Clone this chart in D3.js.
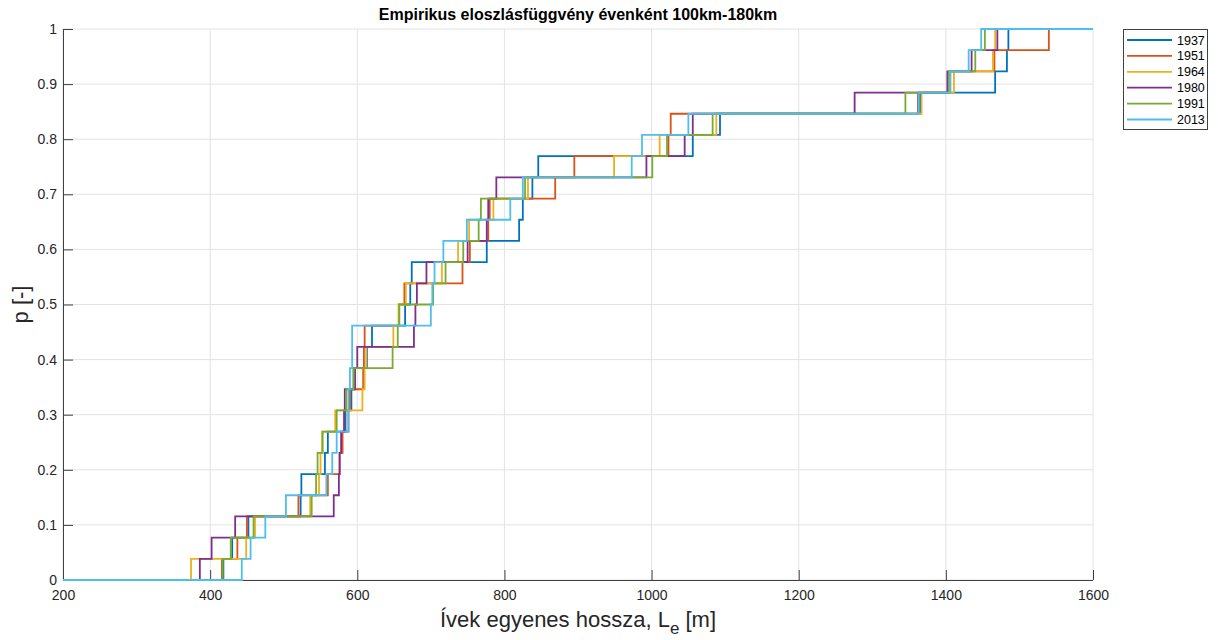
<!DOCTYPE html>
<html>
<head>
<meta charset="utf-8">
<script src="https://cdn.jsdelivr.net/npm/d3@7"></script>
<style>
  html, body { margin: 0; padding: 0; background: #fff; }
  svg { display: block; font-family: "Liberation Sans", Arial, sans-serif; }
</style>
</head>
<body>
<svg id="chart" width="1218" height="640"></svg>
<script>
// ---- data (sorted sample values per year, 26 each) ----
const years = ["1937", "1951", "1964", "1980", "1991", "2013"];
const s1937 = [418, 430, 452, 523, 524, 556, 560, 584, 592, 595, 613, 620, 665, 672, 674, 776, 820, 825, 838, 846, 1056, 1093, 1365, 1467, 1483, 1485];
const s1951 = [416, 437, 450, 520, 560, 576, 580, 588, 590, 608, 609, 610, 657, 664, 743, 753, 778, 780, 869, 895, 1023, 1026, 1362, 1406, 1466, 1540];
const s1964 = [374, 449, 461, 536, 548, 550, 552, 570, 607, 610, 612, 649, 656, 666, 715, 737, 752, 785, 832, 949, 1011, 1088, 1367, 1411, 1464, 1467];
const s1980 = [386, 402, 434, 568, 575, 576, 578, 582, 583, 597, 600, 677, 679, 681, 694, 750, 776, 778, 789, 993, 1045, 1056, 1276, 1402, 1435, 1470];
const s1991 = [417, 428, 459, 538, 544, 546, 553, 572, 585, 595, 648, 655, 657, 703, 720, 744, 765, 768, 828, 1001, 1021, 1083, 1345, 1404, 1440, 1453];
const s2013 = [443, 455, 475, 503, 558, 566, 572, 588, 588, 590, 593, 593, 700, 702, 705, 717, 749, 808, 825, 973, 987, 1050, 1363, 1406, 1431, 1448];
const seriesValues = [s1937, s1951, s1964, s1980, s1991, s2013];
const colors = ["#0072BD", "#D95319", "#EDB120", "#7E2F8E", "#77AC30", "#4DBEEE"];
const xTicks = [200, 400, 600, 800, 1000, 1200, 1400, 1600];
const yTicks = [0, 0.1, 0.2, 0.3, 0.4, 0.5, 0.6, 0.7, 0.8, 0.9, 1];
const xDomain = [200, 1600];
const yDomain = [0, 1];

// ---- layout ----
const svg = d3.select("#chart");
const L = 63, R = 1093, T = 29, B = 580;
const x = d3.scaleLinear().domain(xDomain).range([L, R]);
const y = d3.scaleLinear().domain(yDomain).range([B, T]);

// grid
const grid = svg.append("g");
grid.selectAll("line.vx").data(xTicks).join("line")
  .attr("x1", d => x(d)).attr("x2", d => x(d)).attr("y1", T).attr("y2", B)
  .attr("stroke", "#e3e3e3").attr("stroke-width", 1);
grid.selectAll("line.hy").data(yTicks).join("line")
  .attr("x1", L).attr("x2", R).attr("y1", d => y(d)).attr("y2", d => y(d))
  .attr("stroke", "#e3e3e3").attr("stroke-width", 1);

// axes
const xAxis = d3.axisBottom(x).tickValues(xTicks).tickSize(-10).tickPadding(12).tickFormat(d3.format("d"));
const yAxis = d3.axisLeft(y).tickValues(yTicks).tickSize(-10).tickPadding(6).tickFormat(d => d === 0 ? "0" : d === 1 ? "1" : d3.format(".1f")(d));
const gx = svg.append("g").attr("transform", `translate(0,${B})`).call(xAxis);
const gy = svg.append("g").attr("transform", `translate(${L},0)`).call(yAxis);
[gx, gy].forEach(g => {
  g.select(".domain").attr("stroke", "#404040").attr("stroke-width", 1);
  g.selectAll(".tick line").attr("stroke", "#404040");
  g.selectAll(".tick text").attr("fill", "#262626").style("font-size", "14px")
    .style("font-family", "'Liberation Sans', Arial, sans-serif");
});
gx.selectAll(".tick text").attr("y", 10).attr("dy", "0.71em");
gy.selectAll(".tick text").attr("x", -6);
gx.select(".domain").attr("d", `M${L},0.5H${R}`);
gy.select(".domain").attr("d", `M0.5,${B}V${T}`);

// ECDF step lines
const n = 26;
const line = d3.line().x(d => x(d[0])).y(d => y(d[1])).curve(d3.curveStepAfter);
seriesValues.forEach((vals, i) => {
  const pts = [[xDomain[0], 0]];
  vals.forEach((v, k) => pts.push([v, (k + 1) / n]));
  pts.push([xDomain[1], 1]);
  svg.append("path").datum(pts).attr("d", line)
    .attr("fill", "none").attr("stroke", colors[i]).attr("stroke-width", 1.8)
    .attr("stroke-linejoin", "miter");
});

// title
svg.append("text").attr("x", (L + R) / 2).attr("y", 20).attr("text-anchor", "middle")
  .style("font-size", "16px").style("font-weight", "bold").attr("fill", "#000")
  .text("Empirikus eloszlásfüggvény évenként 100km-180km");

// axis labels
const xl = svg.append("text").attr("x", (L + R) / 2).attr("y", 627).attr("text-anchor", "middle")
  .style("font-size", "22px").attr("fill", "#262626");
xl.append("tspan").text("Ívek egyenes hossza, L");
xl.append("tspan").attr("dy", 7).style("font-size", "17px").text("e");
xl.append("tspan").attr("dy", -7).text(" [m]");

svg.append("text").attr("transform", `translate(28,${(T + B) / 2}) rotate(-90)`)
  .attr("text-anchor", "middle").style("font-size", "22px").attr("fill", "#262626")
  .text("p [-]");

// legend
const lg = svg.append("g");
lg.append("rect").attr("x", 1123.5).attr("y", 29.5).attr("width", 84).attr("height", 100)
  .attr("fill", "#fff").attr("stroke", "#404040").attr("stroke-width", 1);
years.forEach((yr, i) => {
  const cy = 40 + i * 15.9;
  lg.append("line").attr("x1", 1127).attr("x2", 1172).attr("y1", cy).attr("y2", cy)
    .attr("stroke", colors[i]).attr("stroke-width", 1.8);
  lg.append("text").attr("x", 1177).attr("y", cy + 4.5).style("font-size", "12.5px")
    .attr("fill", "#000").text(yr);
});
</script>
</body>
</html>
